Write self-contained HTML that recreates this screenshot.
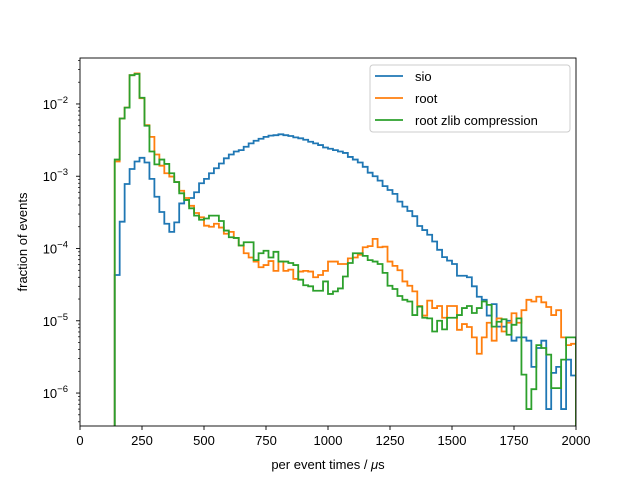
<!DOCTYPE html>
<html><head><meta charset="utf-8"><style>
html,body{margin:0;padding:0;background:#fff;}
svg{display:block;font-family:"Liberation Sans","DejaVu Sans",sans-serif;}
</style></head><body>
<svg id="chart" width="640" height="480" viewBox="0 0 640 480" xmlns="http://www.w3.org/2000/svg">
<defs><clipPath id="plotclip"><rect x="80" y="58" width="496" height="368"/></clipPath></defs>
<rect x="0" y="0" width="640" height="480" fill="#fff"/>
<g id="series" clip-path="url(#plotclip)"></g>
<g id="axes"></g>
</svg>
<script>
const binStart = 140;
const binWidth = 20;
const xTicks = [0, 250, 500, 750, 1000, 1250, 1500, 1750, 2000];
const yTickExps = [-6, -5, -4, -3, -2];
const seriesNames = ["sio", "root", "root zlib compression"];
const sioValues = [4.3e-5,2.35e-4,7.8e-4,1.26e-3,1.6e-3,1.8e-3,1.55e-3,9.2e-4,5.2e-4,3.2e-4,2.2e-4,1.7e-4,2.3e-4,4.2e-4,4.7e-4,5.0e-4,6.0e-4,8.0e-4,9.2e-4,1.1e-3,1.29e-3,1.5e-3,1.77e-3,2.0e-3,2.2e-3,2.3e-3,2.56e-3,2.85e-3,3.1e-3,3.3e-3,3.5e-3,3.65e-3,3.7e-3,3.8e-3,3.7e-3,3.6e-3,3.45e-3,3.35e-3,3.2e-3,3.0e-3,2.85e-3,2.7e-3,2.5e-3,2.4e-3,2.3e-3,2.2e-3,2.1e-3,1.85e-3,1.7e-3,1.55e-3,1.35e-3,1.12e-3,1.0e-3,8.7e-4,7.3e-4,6.45e-4,5.7e-4,4.45e-4,3.8e-4,3.3e-4,2.8e-4,2.05e-4,1.8e-4,1.55e-4,1.25e-4,9.6e-5,7.6e-5,6.8e-5,6.1e-5,4.2e-5,4.2e-5,4.0e-5,3.0e-5,2.15e-5,1.95e-5,1.18e-5,1.7e-5,8.3e-6,8.3e-6,1.0e-5,5.3e-6,5.9e-6,5.9e-6,5.3e-6,2.3e-6,4.2e-6,5.3e-6,6.0e-7,1.9e-6,2.3e-6,6.0e-7,2.9e-6,1.75e-6];
const rootValues = [1.6e-3,6.3e-3,8.9e-3,2.5e-2,2.65e-2,1.2e-2,5.1e-3,3.5e-3,2.0e-3,1.4e-3,1.1e-3,9.9e-4,8.3e-4,6.3e-4,5.0e-4,3.9e-4,3.1e-4,2.7e-4,2.07e-4,2.0e-4,2.2e-4,1.95e-4,1.6e-4,1.7e-4,1.4e-4,1.1e-4,8.6e-5,7.5e-5,6.6e-5,5.5e-5,5.9e-5,6.7e-5,4.9e-5,6.6e-5,4.9e-5,5.1e-5,3.8e-5,4.8e-5,4.9e-5,4.8e-5,4.0e-5,4.3e-5,4.9e-5,6.6e-5,6.6e-5,6.1e-5,6.1e-5,7.3e-5,7.5e-5,8.2e-5,1.04e-4,1.08e-4,1.36e-4,1.04e-4,1.06e-4,6.6e-5,5.75e-5,5.0e-5,3.5e-5,3.05e-5,2.55e-5,1.6e-5,1.18e-5,1.9e-5,1.5e-5,1.6e-5,1.1e-5,1.6e-5,1.6e-5,7.5e-6,9.0e-6,8.2e-6,5.9e-6,3.5e-6,5.9e-6,9.4e-6,5.3e-6,1.08e-5,7.1e-6,9.4e-6,1.27e-5,9.4e-6,1.4e-5,1.95e-5,1.85e-5,2.15e-5,1.8e-5,1.55e-5,1.2e-5,1.4e-5,5.9e-6,4.6e-6,4.8e-6];
const zlibValues = [1.7e-3,6.3e-3,8.9e-3,2.5e-2,2.6e-2,1.22e-2,5.0e-3,2.2e-3,1.46e-3,1.7e-3,1.48e-3,1.1e-3,8.3e-4,5.8e-4,4.7e-4,3.6e-4,2.85e-4,2.5e-4,2.6e-4,2.85e-4,2.85e-4,2.4e-4,1.77e-4,1.43e-4,1.4e-4,1.1e-4,1.22e-4,1.22e-4,6.9e-5,8.6e-5,9.3e-5,7.5e-5,9.0e-5,6.6e-5,6.6e-5,6.3e-5,5.9e-5,3.7e-5,3.1e-5,3.0e-5,2.6e-5,2.6e-5,3.5e-5,2.35e-5,2.55e-5,2.8e-5,4.1e-5,6.3e-5,8.6e-5,8.6e-5,7.9e-5,6.9e-5,6.6e-5,6.1e-5,4.6e-5,3.05e-5,2.75e-5,2.2e-5,1.95e-5,1.85e-5,1.2e-5,1.57e-5,1.1e-5,1.08e-5,7.1e-6,1.0e-5,7.6e-6,1.1e-5,1.1e-5,1.2e-5,1.5e-5,1.6e-5,1.28e-5,1.5e-5,1.85e-5,1.66e-5,8.3e-6,9.7e-6,1.05e-5,6.4e-6,8.8e-6,1.08e-5,1.8e-6,6.0e-7,1.13e-6,4.6e-6,4.2e-6,3.4e-6,1.17e-6,1.17e-6,2.9e-6,5.9e-6,5.9e-6];
const seriesColors = ["#1f77b4", "#ff7f0e", "#2ca02c"];

const NS = "http://www.w3.org/2000/svg";
const X0 = 80, X1 = 576, Y0 = 426, Y1 = 58;
const xMin = 0, xMax = 2000;
const yMinLog = -6.456, yMaxLog = -1.364;
function xScale(v){ return X0 + (v - xMin) / (xMax - xMin) * (X1 - X0); }
function yScale(v){ return Y0 - (Math.log10(v) - yMinLog) / (yMaxLog - yMinLog) * (Y0 - Y1); }
function mk(tag, attrs, parent){ const e = document.createElementNS(NS, tag); for (const k in attrs) e.setAttribute(k, attrs[k]); parent.appendChild(e); return e; }

const seriesG = document.getElementById("series");
const axesG = document.getElementById("axes");
const allSeries = [sioValues, rootValues, zlibValues];
const seriesKeys = ["sio", "root", "root-zlib"];
allSeries.forEach((vals, s) => {
  let d = "M" + xScale(binStart).toFixed(2) + "," + (Y0 + 10);
  vals.forEach((v, i) => {
    const xl = xScale(binStart + i * binWidth), xr = xScale(binStart + (i + 1) * binWidth);
    const y = yScale(v).toFixed(2);
    d += " L" + xl.toFixed(2) + "," + y + " L" + xr.toFixed(2) + "," + y;
  });
  d += " L" + xScale(binStart + vals.length * binWidth).toFixed(2) + "," + (Y0 + 10);
  const p = mk("path", {d: d, fill: "none", stroke: seriesColors[s], "stroke-width": 1.8, "stroke-linejoin": "miter"}, seriesG);
  
  
});

const frame = mk("rect", {x: X0, y: Y1, width: X1 - X0, height: Y0 - Y1, fill: "none", stroke: "#000", "stroke-width": 0.9}, axesG);



xTicks.forEach(t => {
  const x = xScale(t);
  const tk = mk("line", {x1: x, x2: x, y1: Y0, y2: Y0 + 4, stroke: "#000", "stroke-width": 0.9}, axesG);
  
  
  const lb = mk("text", {x: x, y: Y0 + 19, "text-anchor": "middle", "font-size": 13, fill: "#000"}, axesG);
  lb.textContent = String(t);
  
  
});

for (let e = -7; e <= -1; e++) {
  for (let m = 1; m <= 9; m++) {
    const lv = e + Math.log10(m);
    if (lv < yMinLog || lv > yMaxLog) continue;
    const y = Y0 - (lv - yMinLog) / (yMaxLog - yMinLog) * (Y0 - Y1);
    const len = m === 1 ? 4 : 2;
    const tk = mk("line", {x1: X0 - len, x2: X0, y1: y, y2: y, stroke: "#000", "stroke-width": m === 1 ? 0.9 : 0.7}, axesG);
    
    
  }
}
yTickExps.forEach(e => {
  const y = yScale(Math.pow(10, e));
  const lb = mk("text", {x: X0 - 12, y: y + 5, "text-anchor": "end", "font-size": 13, fill: "#000"}, axesG);
  
  
  const t1 = mk("tspan", {}, lb); t1.textContent = "10";
  const t2 = mk("tspan", {dy: -6, "font-size": 9.5}, lb); t2.textContent = "\u2212" + Math.abs(e);
});

const xt = mk("text", {x: 328, y: 469, "text-anchor": "middle", "font-size": 13, fill: "#000"}, axesG);


const xa = mk("tspan", {}, xt); xa.textContent = "per event times / ";
const xb = mk("tspan", {"font-style": "italic"}, xt); xb.textContent = "\u03bc";
const xc = mk("tspan", {}, xt); xc.textContent = "s";
const yt = mk("text", {x: 0, y: 0, "text-anchor": "middle", "font-size": 13, fill: "#000", transform: "translate(27,242) rotate(-90)"}, axesG);
yt.textContent = "fraction of events";



const lg = mk("g", {}, axesG);


mk("rect", {x: 370, y: 65, width: 200, height: 67, rx: 3, fill: "#fff", "fill-opacity": 0.8, stroke: "#ccc", "stroke-width": 1}, lg);
seriesNames.forEach((n, i) => {
  const y = 76 + i * 22;
  const en = mk("g", {}, lg);
  
  
  mk("line", {x1: 375, x2: 403, y1: y, y2: y, stroke: seriesColors[i], "stroke-width": 1.8}, en);
  const t = mk("text", {x: 415, y: y + 5, "font-size": 13, fill: "#000"}, en);
  t.textContent = n;
});
</script>
</body></html>
